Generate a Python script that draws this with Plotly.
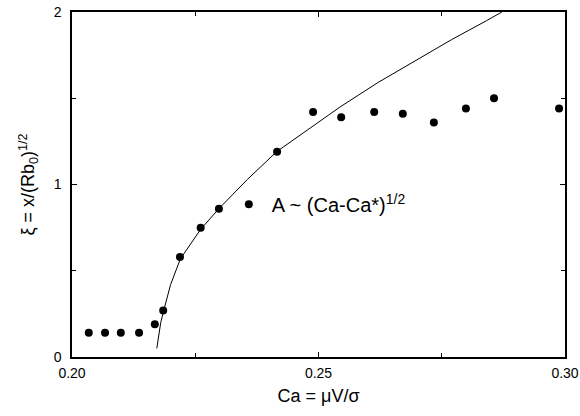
import plotly.graph_objects as go

# measured data points
ca_pts = [0.2034, 0.2067, 0.2099, 0.2136, 0.2168, 0.2185, 0.2219, 0.2261, 0.2298,
          0.2416, 0.2489, 0.2546, 0.2613, 0.2671, 0.2734, 0.2799, 0.2856, 0.2988]
xi_pts = [0.14, 0.14, 0.14, 0.14, 0.19, 0.27, 0.58, 0.75, 0.86,
          1.19, 1.42, 1.39, 1.42, 1.41, 1.36, 1.44, 1.50, 1.44]

# fitted curve
ca_fit = [0.2172, 0.2176, 0.2180, 0.2187, 0.2200, 0.2220, 0.2261, 0.2298, 0.2356,
          0.2415, 0.2480, 0.2544, 0.2620, 0.2692, 0.2770, 0.2841, 0.2872]
xi_fit = [0.05, 0.14, 0.20, 0.28, 0.42, 0.57, 0.74, 0.86, 1.03,
          1.19, 1.32, 1.45, 1.59, 1.71, 1.84, 1.95, 2.0]

legend_label = "A ~ (Ca-Ca*)<sup>1/2</sup>"
x_title = "Ca = \u03bcV/\u03c3"
y_title = "\u03be = x/(Rb<sub>0</sub>)<sup>1/2</sup>"

font = "Liberation Sans, Arial, sans-serif"

fig = go.Figure()
fig.add_trace(go.Scatter(x=ca_fit, y=xi_fit, mode="lines",
                         line=dict(color="black", width=1), showlegend=False))
fig.add_trace(go.Scatter(x=ca_pts, y=xi_pts, mode="markers", name=legend_label,
                         marker=dict(color="black", size=8)))

axis_common = dict(showgrid=False, zeroline=False, showline=True, linecolor="black",
                   linewidth=1.5, mirror="ticks", ticks="inside", ticklen=5,
                   tickcolor="black", tickwidth=1, automargin=False,
                   tickfont=dict(family=font, size=14, color="black"))

fig.update_xaxes(range=[0.20, 0.30], tickvals=[0.20, 0.25, 0.30],
                 ticktext=["0.20", "0.25", "0.30"], ticklabelstandoff=2,
                 minor=dict(ticks="inside", tickvals=[0.225, 0.275], ticklen=4,
                            tickcolor="black"),
                 title=dict(text=x_title, font=dict(family=font, size=18, color="black"),
                            standoff=10),
                 **axis_common)
fig.update_yaxes(range=[0, 2], tickvals=[0, 1, 2], ticklabelstandoff=6,
                 minor=dict(ticks="inside", tickvals=[0.5, 1.5], ticklen=4,
                            tickcolor="black"),
                 title=dict(text=y_title, font=dict(family=font, size=18, color="black"),
                            standoff=14),
                 **axis_common)

fig.update_layout(
    width=580, height=416,
    margin=dict(l=72, r=15, t=12, b=59),
    paper_bgcolor="white", plot_bgcolor="white",
    showlegend=True,
    legend=dict(x=0.312, y=0.443, xanchor="left", yanchor="middle",
                itemwidth=36, bgcolor="rgba(0,0,0,0)",
                font=dict(family=font, size=20, color="black")),
)

fig.write_html("out.html")
